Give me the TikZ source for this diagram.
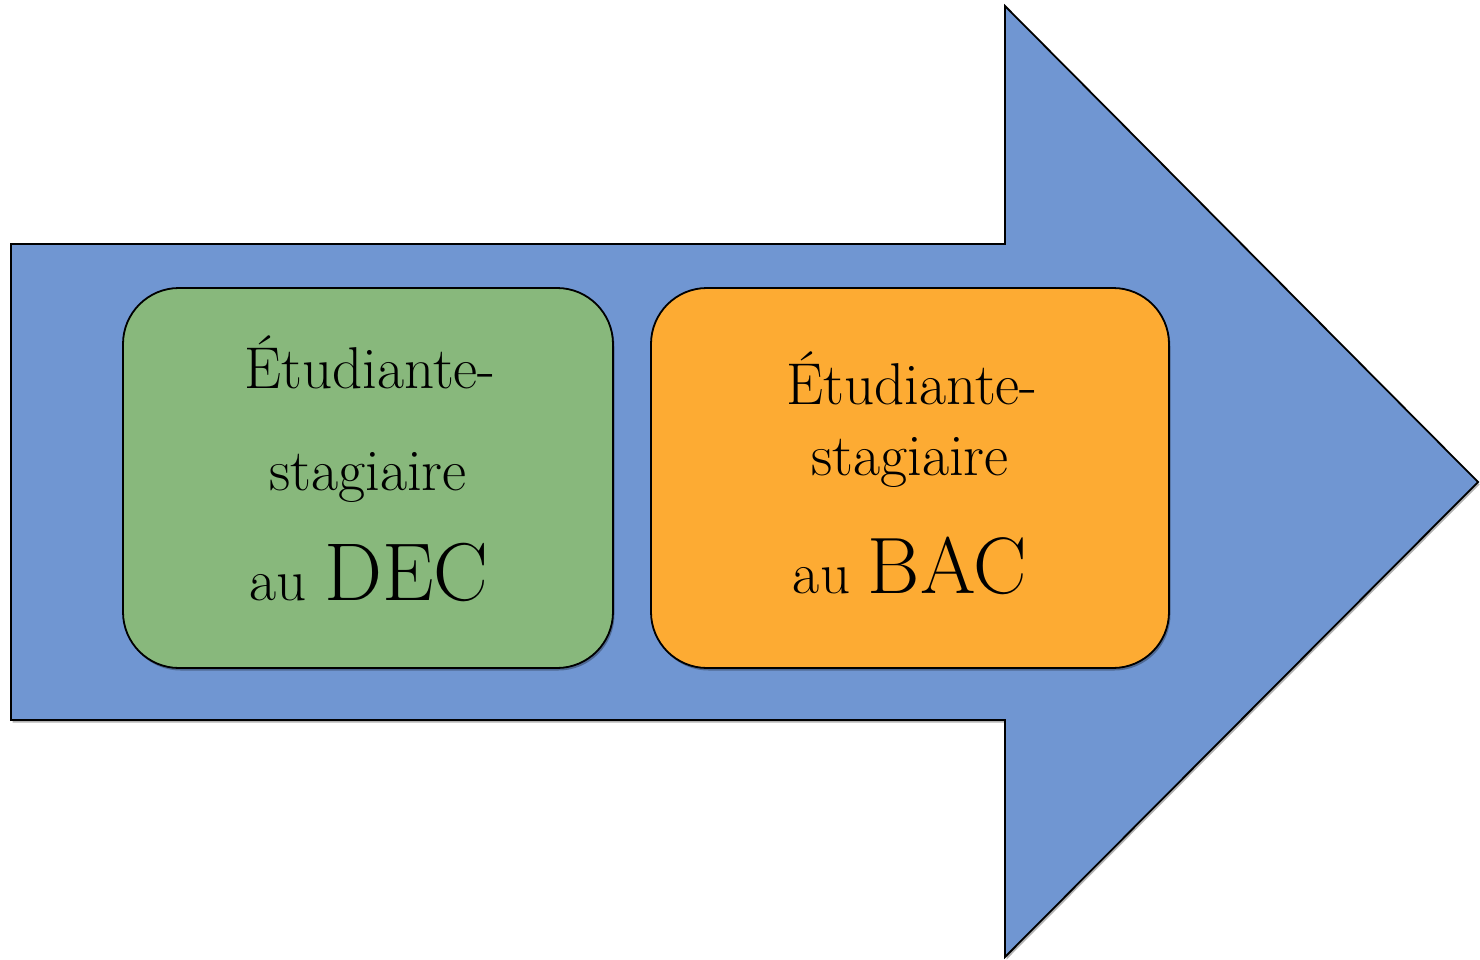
\documentclass[tikz,border=0pt]{standalone}
\usepackage{fontspec}
\usetikzlibrary{shadows}
\definecolor{arrowblue}{HTML}{7096D2}
\definecolor{decgreen}{HTML}{88B87C}
\definecolor{bacorange}{HTML}{FDAB33}
\pgfdeclareradialshading{vignette}{\pgfpoint{0bp}{0bp}}{color(0bp)=(white); color(35bp)=(white); color(58bp)=(black!5); color(72bp)=(black!10)}
\tikzset{
  softshadow/.style={drop shadow={shadow xshift=1.5pt, shadow yshift=-2.5pt, opacity=.3, fill=black}},
  stagebox/.style={draw=black, line width=1.8pt, rounded corners=56pt, inner sep=0pt, softshadow},
  linetext/.style={anchor=base, inner sep=0pt, font=\fontsize{59}{66}\selectfont}
}
\begin{document}
\begin{tikzpicture}[x=1pt,y=-1pt]
    \useasboundingbox (0,0) rectangle (1480,960);
    \shade[shading=vignette] (0,0) rectangle (1480,960);
    % la fleche
    \draw[fill=arrowblue, line width=1.8pt, line join=miter, softshadow]
        (11,244) -- (1005,244) -- (1005,6) -- (1478,482) -- (1005,957) -- (1005,720) -- (11,720) -- cycle;
    % les deux etapes
    \node[stagebox, fill=decgreen, minimum width=490pt, minimum height=380pt] (dec) at (368,478) {};
    \node[stagebox, fill=bacorange, minimum width=518pt, minimum height=380pt] (bac) at (910,478) {};
    \node[linetext] (decA) at (370,388) {Étudiante-};
    \node[linetext] (decB) at (368,490) {stagiaire};
    \node[linetext] (decC) at (369,600) {au\ {\fontsize{82}{90}\selectfont DEC}};
    \node[linetext] (bacA) at (912,404) {Étudiante-};
    \node[linetext] (bacB) at (910,475) {stagiaire};
    \node[linetext] (bacC) at (910,593) {au\ {\fontsize{80}{90}\selectfont BAC}};
\end{tikzpicture}
\end{document}
